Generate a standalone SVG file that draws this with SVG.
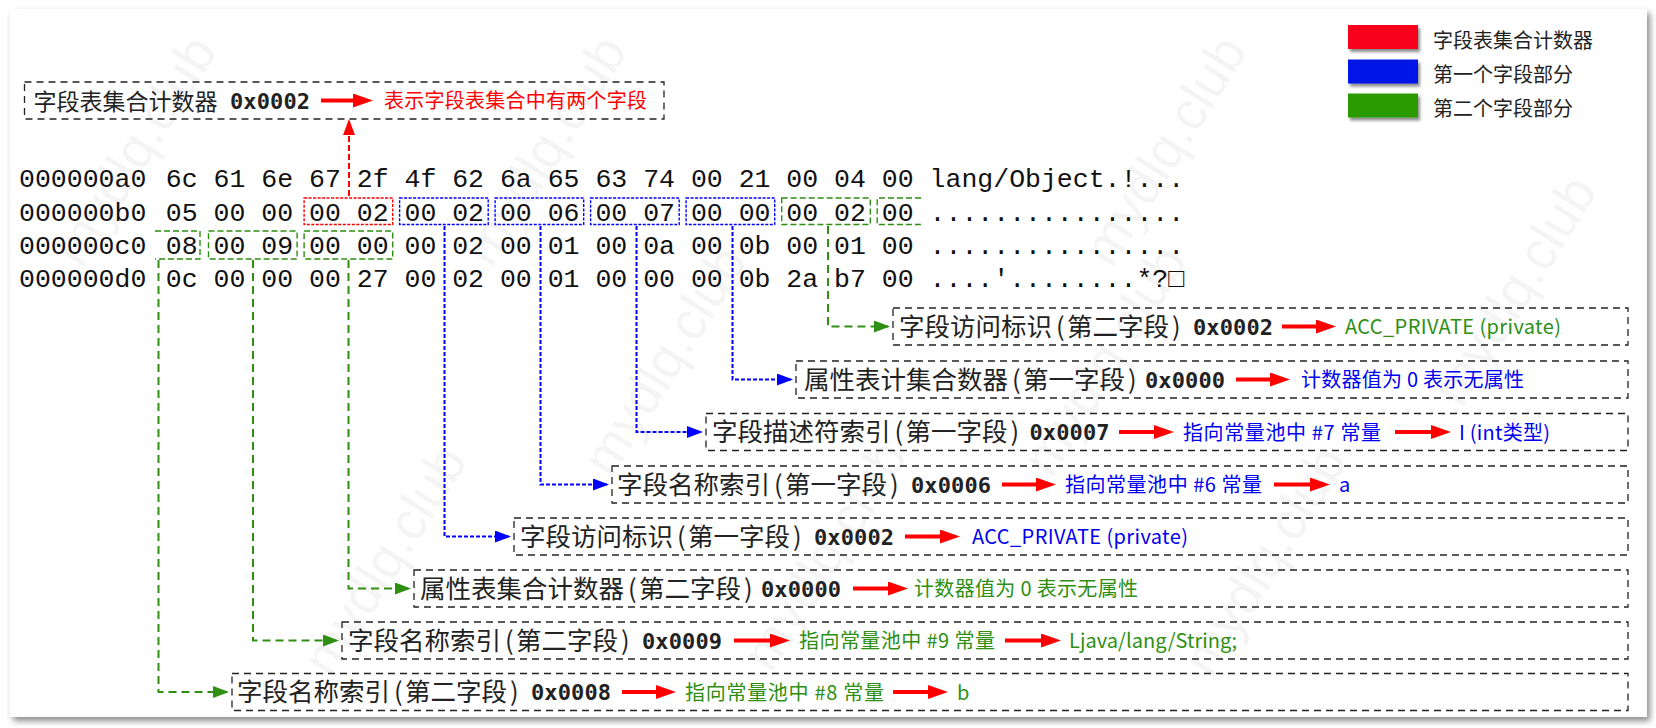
<svg xmlns="http://www.w3.org/2000/svg" width="1656" height="728" viewBox="0 0 1656 728">
<style>
.hex{font-family:'Liberation Mono','DejaVu Sans Mono',monospace;font-size:26.53px;fill:#111}
.lbl{font-family:'Noto Sans CJK SC',sans-serif;font-size:25.5px;fill:#222}
.hx{font-family:'DejaVu Sans Mono',monospace;font-size:22px;font-weight:bold;fill:#222}
.ct{font-family:'Noto Sans CJK SC',sans-serif;font-size:20px}
.lg{font-family:'Noto Sans CJK SC',sans-serif;font-size:20px;fill:#222}
.wm{font-family:'Liberation Sans',sans-serif;font-size:54px;fill:#000;fill-opacity:0.045}
.tr{fill:#ff0000}.tb{fill:#0000f0}.tg{fill:#2e8f12}
.box{fill:none;stroke:#222;stroke-width:1.3;stroke-dasharray:7 5}
.hbr{fill:none;stroke:#ff0000;stroke-width:1.4;stroke-dasharray:3 1.5}
.hbb{fill:none;stroke:#0000ff;stroke-width:1.4;stroke-dasharray:3 1.5}
.hbg{fill:none;stroke:#2e8f12;stroke-width:1.4;stroke-dasharray:6 3}
.cb{fill:none;stroke:#0000ff;stroke-width:2;stroke-dasharray:4 2;marker-end:url(#mb)}
.cg{fill:none;stroke:#2e8f12;stroke-width:2;stroke-dasharray:8 5;marker-end:url(#mg)}
.cr{fill:none;stroke:#ff0000;stroke-width:2;stroke-dasharray:6 3;marker-end:url(#mr)}
.ra{fill:none;stroke:#ff0000;stroke-width:4;marker-end:url(#rh)}
</style>
<defs>
<filter id="sh" x="-5%" y="-5%" width="110%" height="115%"><feDropShadow dx="3" dy="4" stdDeviation="3" flood-color="#000" flood-opacity="0.45"/></filter>
<filter id="sh2" x="-20%" y="-30%" width="150%" height="190%"><feDropShadow dx="2" dy="3" stdDeviation="1.5" flood-color="#000" flood-opacity="0.45"/></filter>
<marker id="mb" markerUnits="userSpaceOnUse" markerWidth="16" markerHeight="12" refX="14" refY="6" orient="auto"><path d="M0,0 L16,6 L0,12 z" fill="#0000ff"/></marker>
<marker id="mg" markerUnits="userSpaceOnUse" markerWidth="16" markerHeight="12" refX="14" refY="6" orient="auto"><path d="M0,0 L16,6 L0,12 z" fill="#2e8f12"/></marker>
<marker id="mr" markerUnits="userSpaceOnUse" markerWidth="16" markerHeight="12" refX="14" refY="6" orient="auto"><path d="M0,0 L16,6 L0,12 z" fill="#ff0000"/></marker>
<marker id="rh" markerUnits="userSpaceOnUse" markerWidth="20" markerHeight="14" refX="10" refY="7" orient="auto"><path d="M0,0 L20,7 L0,14 z" fill="#ff0000"/></marker>
</defs>
<rect width="1656" height="728" fill="#fff"/>
<rect x="10" y="9" width="1637" height="708" fill="#fff" filter="url(#sh)"/>
<g id="watermarks">
<text class="wm" transform="translate(150,160) rotate(-58)" text-anchor="middle">mydlq.club</text>
<text class="wm" transform="translate(560,160) rotate(-58)" text-anchor="middle">mydlq.club</text>
<text class="wm" transform="translate(1180,160) rotate(-58)" text-anchor="middle">mydlq.club</text>
<text class="wm" transform="translate(680,370) rotate(-58)" text-anchor="middle">mydlq.club</text>
<text class="wm" transform="translate(1120,370) rotate(-58)" text-anchor="middle">mydlq.club</text>
<text class="wm" transform="translate(1530,300) rotate(-58)" text-anchor="middle">mydlq.club</text>
<text class="wm" transform="translate(400,570) rotate(-58)" text-anchor="middle">mydlq.club</text>
<text class="wm" transform="translate(840,565) rotate(-58)" text-anchor="middle">mydlq.club</text>
<text class="wm" transform="translate(1280,570) rotate(-58)" text-anchor="middle">mydlq.club</text>
</g>
<g id="legend">
<rect x="1348" y="25" width="70" height="24" fill="#f6001c" filter="url(#sh2)"/>
<rect x="1348" y="59.5" width="70" height="24" fill="#0012e6" filter="url(#sh2)"/>
<rect x="1348" y="93.5" width="70" height="24" fill="#2a9a05" filter="url(#sh2)"/>
<text class="lg" x="1433" y="48">字段表集合计数器</text>
<text class="lg" x="1433" y="82">第一个字段部分</text>
<text class="lg" x="1433" y="116">第二个字段部分</text>
</g>
<g id="hexdump">
<text class="hex" x="19" y="186.7">000000a0</text>
<text class="hex" x="165.8" y="186.7">6c 61 6e 67 2f 4f 62 6a 65 63 74 00 21 00 04 00 lang/Object.!...</text>
<text class="hex" x="19" y="220.7">000000b0</text>
<text class="hex" x="165.8" y="220.7">05 00 00 00 02 00 02 00 06 00 07 00 00 00 02 00 ................</text>
<text class="hex" x="19" y="254">000000c0</text>
<text class="hex" x="165.8" y="254">08 00 09 00 00 00 02 00 01 00 0a 00 0b 00 01 00 ................</text>
<text class="hex" x="19" y="287.3">000000d0</text>
<text class="hex" x="165.8" y="287.3">0c 00 00 00 27 00 02 00 01 00 00 00 0b 2a b7 00 ....'........*?□</text>
<rect class="hbr" x="304.1" y="198" width="88.6" height="26.5"/>
<rect class="hbb" x="399.6" y="198" width="88.6" height="26.5"/>
<rect class="hbb" x="495.1" y="198" width="88.6" height="26.5"/>
<rect class="hbb" x="590.6" y="198" width="88.6" height="26.5"/>
<rect class="hbb" x="686.1" y="198" width="88.6" height="26.5"/>
<rect class="hbg" x="781.7" y="198" width="88.6" height="26.5"/>
<path class="hbg" d="M921,198 H877.2 V224.5 H921"/>
<path class="hbg" d="M155,231 H200 V259 H155"/>
<rect class="hbg" x="208.5" y="231" width="88.6" height="28"/>
<rect class="hbg" x="304.1" y="231" width="88.6" height="28"/>
</g>
<g id="connectors">
<path class="cr" d="M349,196 V121"/>
<path class="cg" d="M828,226 V326.5 H888"/>
<path class="cb" d="M732.5,226 V379.5 H791"/>
<path class="cb" d="M636.5,226 V432 H701"/>
<path class="cb" d="M540.5,226 V484.5 H607"/>
<path class="cb" d="M444.5,226 V536.5 H509"/>
<path class="cg" d="M348.5,260 V588.5 H409"/>
<path class="cg" d="M253,260 V640.5 H337"/>
<path class="cg" d="M158.5,260 V692 H227"/>
</g>
<g id="top-box">
<rect class="box" x="24.5" y="82" width="639.5" height="37"/>
<text class="lbl" x="33.5" y="109.5" style="font-size:23px">字段表集合计数器</text>
<text class="hx" x="230" y="108.5" textLength="80">0x0002</text>
<path class="ra" d="M321,100.5 H363"/>
<text class="ct tr" x="384" y="108" textLength="263">表示字段表集合中有两个字段</text>
</g>
<g id="box1">
<rect class="box" x="893" y="308" width="735" height="37"/>
<text class="lbl" x="899" y="335.5">字段访问标识<tspan x="1056">(</tspan><tspan x="1067">第二字段</tspan><tspan x="1172">)</tspan></text>
<text class="hx" x="1193" y="334.5" textLength="80">0x0002</text>
<path class="ra" d="M1282,326.5 H1326"/>
<text class="ct tg" x="1345" y="334" textLength="216">ACC_PRIVATE (private)</text>
</g>
<g id="box2">
<rect class="box" x="796" y="361" width="832" height="37"/>
<text class="lbl" x="804" y="388.5">属性表计集合数器<tspan x="1012">(</tspan><tspan x="1023">第一字段</tspan><tspan x="1128">)</tspan></text>
<text class="hx" x="1145" y="387.5" textLength="80">0x0000</text>
<path class="ra" d="M1236,379.5 H1280"/>
<text class="ct tb" x="1301" y="387" textLength="223">计数器值为 0 表示无属性</text>
</g>
<g id="box3">
<rect class="box" x="706" y="413.5" width="922" height="37"/>
<text class="lbl" x="712" y="441">字段描述符索引<tspan x="894.5">(</tspan><tspan x="905.5">第一字段</tspan><tspan x="1010.5">)</tspan></text>
<text class="hx" x="1029.5" y="440" textLength="80">0x0007</text>
<path class="ra" d="M1119,432 H1164"/>
<text class="ct tb" x="1183" y="439.5" textLength="198">指向常量池中 #7 常量</text>
<path class="ra" d="M1395,432 H1441"/>
<text class="ct tb" x="1459" y="439.5" textLength="91">I (int类型)</text>
</g>
<g id="box4">
<rect class="box" x="612" y="466" width="1016" height="37"/>
<text class="lbl" x="617" y="493.5">字段名称索引<tspan x="774">(</tspan><tspan x="785">第一字段</tspan><tspan x="890">)</tspan></text>
<text class="hx" x="911" y="492.5" textLength="80">0x0006</text>
<path class="ra" d="M1002,484.5 H1046"/>
<text class="ct tb" x="1065" y="492" textLength="197">指向常量池中 #6 常量</text>
<path class="ra" d="M1274,484.5 H1320"/>
<text class="ct tb" x="1339" y="492">a</text>
</g>
<g id="box5">
<rect class="box" x="514" y="518" width="1114" height="37"/>
<text class="lbl" x="520" y="545.5">字段访问标识<tspan x="677">(</tspan><tspan x="688">第一字段</tspan><tspan x="793">)</tspan></text>
<text class="hx" x="814" y="544.5" textLength="80">0x0002</text>
<path class="ra" d="M905,536.5 H950"/>
<text class="ct tb" x="972" y="544" textLength="216">ACC_PRIVATE (private)</text>
</g>
<g id="box6">
<rect class="box" x="414" y="570" width="1214" height="37"/>
<text class="lbl" x="420" y="597.5">属性表集合计数器<tspan x="628">(</tspan><tspan x="639">第二字段</tspan><tspan x="744">)</tspan></text>
<text class="hx" x="761" y="596.5" textLength="80">0x0000</text>
<path class="ra" d="M853,588.5 H898"/>
<text class="ct tg" x="914" y="596" textLength="224">计数器值为 0 表示无属性</text>
</g>
<g id="box7">
<rect class="box" x="342" y="622" width="1286" height="37"/>
<text class="lbl" x="348" y="649.5">字段名称索引<tspan x="505">(</tspan><tspan x="516">第二字段</tspan><tspan x="621">)</tspan></text>
<text class="hx" x="642" y="648.5" textLength="80">0x0009</text>
<path class="ra" d="M734,640.5 H780"/>
<text class="ct tg" x="799" y="648" textLength="196">指向常量池中 #9 常量</text>
<path class="ra" d="M1005,640.5 H1051"/>
<text class="ct tg" x="1069" y="648" textLength="168">Ljava/lang/String;</text>
</g>
<g id="box8">
<rect class="box" x="232" y="673.5" width="1396" height="37"/>
<text class="lbl" x="237" y="701">字段名称索引<tspan x="394">(</tspan><tspan x="405">第二字段</tspan><tspan x="510">)</tspan></text>
<text class="hx" x="531" y="700" textLength="80">0x0008</text>
<path class="ra" d="M622,692 H666"/>
<text class="ct tg" x="685" y="699.5" textLength="199">指向常量池中 #8 常量</text>
<path class="ra" d="M893,692 H938"/>
<text class="ct tg" x="957" y="699.5">b</text>
</g>
</svg>
